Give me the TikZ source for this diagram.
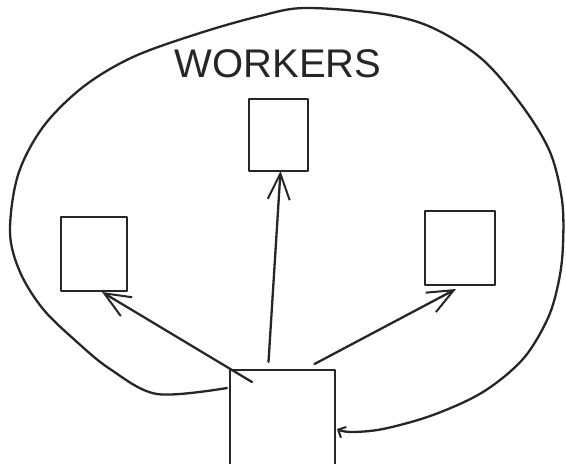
\documentclass[tikz,border=0pt]{standalone}
\usepackage{fontspec}
\newfontfamily\hand{Liberation Sans}
\usetikzlibrary{arrows.meta,calc}
\begin{document}
\begin{tikzpicture}[x=1pt,y=-1pt,
  ink/.style={draw=black!85, line width=2.3pt, line cap=round, line join=round},
  box/.style={ink, rectangle, inner sep=0pt, outer sep=0pt},
  arr/.style={ink, -{Straight Barb[length=26pt,width=22pt,line width=2pt]}},
]
\useasboundingbox (0,0) rectangle (566,464);
\node[box, minimum width=59pt, minimum height=72pt] (w2) at (278.5,135) {};
\node[box, minimum width=66pt, minimum height=74pt] (w1) at (94,254) {};
\node[box, minimum width=70pt, minimum height=74pt] (w3) at (460,248) {};
\node[inner sep=0pt, outer sep=0pt, minimum width=105pt, minimum height=96pt] (m) at (282.5,418) {};
\draw[ink] (m.south west) -- (m.north west) -- (m.north east) -- (m.south east);
\node[font=\hand\fontsize{40}{40}\selectfont, text=black!85, anchor=base, inner sep=0pt] (t) at (278,77) {WORKERS};
\draw[arr] ([xshift=-14pt,yshift=8pt]m.north) -- ([xshift=2pt]w2.south);
\draw[arr] ([xshift=32pt,yshift=6pt]m.north) -- ([xshift=-4pt,yshift=-4pt]w3.south);
\draw[arr] ([xshift=22pt,yshift=-12pt]m.north west) -- ([xshift=8pt,yshift=-1pt]w1.south);
\coordinate (bs) at ([xshift=-3pt,yshift=-18pt]m.north west);
\coordinate (be) at ([xshift=2pt,yshift=-59pt]m.north east);
\draw[ink, -{Straight Barb[length=6pt,width=12pt,line width=2pt]}] plot[smooth, tension=0.55] coordinates {(bs) (157,394) (110,369) (77,342) (43,309) (20,272) (10,232) (18,175) (43,127) (83,87) (133,57) (200,33) (260,16) (305,8) (383,14) (433,28) (483,60) (523,107) (550,152) (562,200) (563,245) (559,280) (548,318) (523,359) (483,392) (433,415) (383,429) (350,432) (be)};
\end{tikzpicture}
\end{document}
